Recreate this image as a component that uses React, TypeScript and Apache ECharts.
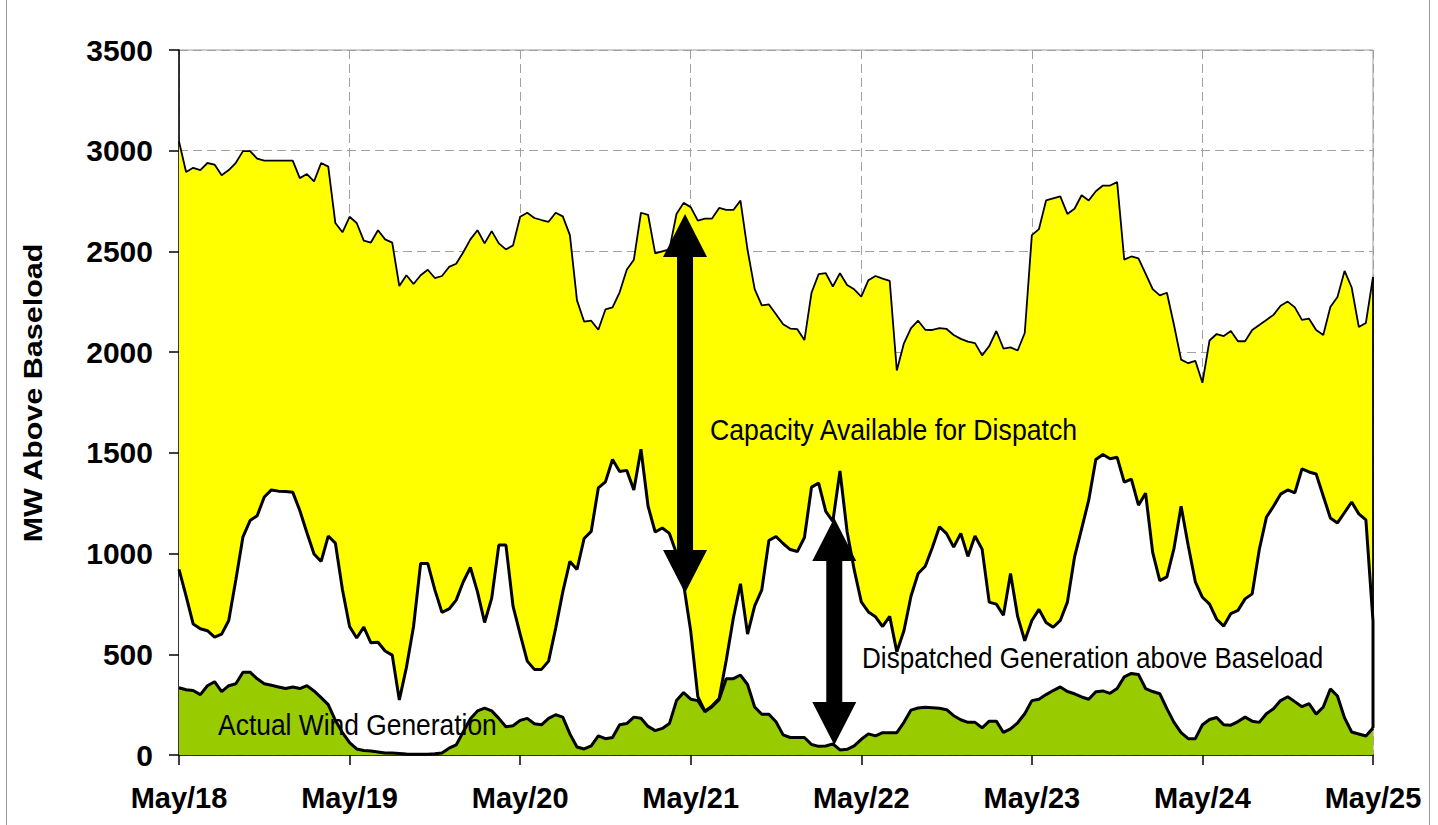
import React, { useEffect, useRef } from "react";
import * as echarts from "echarts";

// Tick labels (one per day, hourly data in between)
const dayLabels = ["May/18", "May/19", "May/20", "May/21", "May/22", "May/23", "May/24", "May/25"];
const yAxisTitle = "MW Above Baseload";

// Hourly values, May/18 00:00 .. May/25 00:00 (169 points)
const capacity = [
  3046, 2894, 2915, 2904, 2939, 2931, 2878, 2904, 2940, 2998, 2998, 2961, 2951, 2951, 2951, 2951, 2951, 2864, 2884, 2848, 2939, 2921, 2641, 2595,
  2672, 2641, 2554, 2544, 2605, 2560, 2544, 2328, 2382, 2338, 2382, 2409, 2368, 2378, 2423, 2439, 2496, 2560, 2605, 2540, 2601, 2540, 2510, 2530,
  2672, 2692, 2666, 2656, 2647, 2692, 2674, 2581, 2257, 2152, 2156, 2111, 2212, 2222, 2297, 2409, 2459, 2692, 2682, 2490, 2500, 2510, 2686, 2741,
  2720, 2653, 2663, 2663, 2716, 2706, 2706, 2752, 2507, 2313, 2232, 2237, 2188, 2138, 2117, 2114, 2060, 2295, 2387, 2392, 2326, 2392, 2333, 2312,
  2276, 2357, 2378, 2365, 2354, 1909, 2044, 2119, 2156, 2111, 2110, 2119, 2115, 2085, 2066, 2052, 2045, 1984, 2030, 2105, 2018, 2024, 2008, 2095,
  2581, 2611, 2753, 2763, 2773, 2686, 2712, 2779, 2753, 2799, 2827, 2827, 2844, 2459, 2475, 2465, 2390, 2313, 2282, 2295, 2135, 1963, 1945, 1957,
  1848, 2058, 2090, 2080, 2105, 2054, 2054, 2110, 2135, 2160, 2185, 2230, 2251, 2222, 2160, 2166, 2110, 2085, 2224, 2274, 2403, 2321, 2125, 2145,
  2373,
];
const dispatched = [
  921, 789, 650, 627, 617, 585, 600, 668, 870, 1083, 1164, 1188, 1281, 1316, 1310, 1308, 1305, 1214, 1103, 998, 961, 1087, 1052, 820,
  638, 581, 635, 557, 560, 516, 496, 273, 435, 638, 951, 951, 820, 708, 725, 769, 860, 931, 810, 658, 779, 1042, 1042, 739,
  600, 466, 425, 425, 466, 630, 810, 961, 921, 1075, 1110, 1326, 1356, 1467, 1407, 1413, 1316, 1518, 1235, 1107, 1127, 1100, 1000, 848,
  615, 290, 218, 244, 280, 470, 680, 850, 600, 740, 820, 1065, 1085, 1050, 1020, 1010, 1080, 1330, 1350, 1210, 1160, 1410, 1110, 920,
  760, 710, 686, 638, 688, 512, 617, 789, 901, 937, 1030, 1133, 1099, 1032, 1100, 986, 1087, 1022, 759, 749, 694, 901, 688, 567,
  668, 723, 658, 634, 668, 759, 982, 1123, 1265, 1467, 1492, 1471, 1478, 1355, 1370, 1240, 1300, 1006, 866, 884, 1026, 1235, 1040, 860,
  783, 749, 674, 640, 702, 718, 775, 800, 1020, 1180, 1235, 1295, 1316, 1301, 1420, 1405, 1395, 1286, 1177, 1152, 1204, 1256, 1197, 1167,
  665,
];
const wind = [
  334, 324, 320, 300, 344, 364, 315, 344, 354, 411, 411, 378, 354, 346, 338, 330, 338, 330, 344, 318, 285, 250, 172, 111,
  61, 30, 22, 20, 15, 10, 10, 8, 5, 4, 4, 4, 6, 10, 34, 50, 115, 180, 219, 233, 219, 182, 140, 145,
  172, 182, 155, 150, 182, 200, 188, 105, 40, 30, 45, 95, 81, 87, 150, 156, 188, 182, 142, 121, 132, 156, 270, 310,
  277, 270, 215, 240, 275, 379, 379, 397, 350, 238, 202, 202, 165, 100, 87, 87, 87, 52, 43, 45, 55, 25, 28, 45,
  78, 105, 95, 111, 111, 111, 162, 223, 233, 237, 235, 232, 225, 195, 175, 162, 162, 135, 168, 168, 112, 130, 160, 205,
  270, 277, 300, 320, 338, 315, 304, 288, 277, 314, 318, 306, 330, 388, 405, 400, 330, 315, 304, 230, 162, 111, 81, 81,
  150, 176, 186, 150, 148, 166, 188, 168, 162, 205, 230, 270, 289, 265, 240, 255, 203, 238, 328, 293, 184, 114, 104, 94,
  134,
];

// Annotation texts, anchored in data coordinates (hour, MW) – left edge / vertical middle
const labelTexts = ["Capacity Available for Dispatch", "Dispatched Generation above Baseload", "Actual Wind Generation"];
const labelHours = [74.7, 96.1, 5.5];
const labelMW = [1614, 482, 149];
const labelScale = [0.92, 0.9, 0.91];

// Double-headed arrows: hour position, lower tip MW, upper tip MW
const arrowHours = [71.2, 92.2];
const arrowLow = [804, 50];
const arrowHigh = [2686, 1177];

const FONT = '"Liberation Sans", Arial, Helvetica, sans-serif';

export default function App() {
  const ref = useRef<HTMLDivElement>(null);

  useEffect(() => {
    const chart = echarts.init(ref.current!, null, { renderer: "svg" });
    const pairs = (arr: number[]) => arr.map((v, i) => [i, v]);
    const last = capacity.length - 1;
    const totalHours = (dayLabels.length - 1) * 24;

    chart.setOption({
      animation: false,
      backgroundColor: "#ffffff",
      grid: {
        left: 179,
        top: 50,
        width: 1194,
        height: 705,
        show: true,
        borderColor: "#9a9a9a",
        borderWidth: 1,
        backgroundColor: "transparent",
      },
      xAxis: {
        type: "value",
        min: 0,
        max: totalHours,
        interval: 24,
        axisLine: { show: true, onZero: false, lineStyle: { color: "#000", width: 1.5 } },
        axisTick: { show: true, length: 10, lineStyle: { color: "#000", width: 1.5 } },
        axisLabel: {
          margin: 28,
          color: "#000",
          fontFamily: FONT,
          fontWeight: "bold",
          fontSize: 29,
          formatter: (v: number) => dayLabels[Math.round(v / 24)] ?? "",
        },
        splitLine: { show: true, lineStyle: { color: "#a0a0a0", width: 1, type: [9, 5] } },
      },
      yAxis: {
        type: "value",
        min: 0,
        max: 3500,
        interval: 500,
        axisLine: { show: true, lineStyle: { color: "#000", width: 1.5 } },
        axisTick: { show: true, length: 10, lineStyle: { color: "#000", width: 1.5 } },
        axisLabel: {
          margin: 26,
          color: "#000",
          fontFamily: FONT,
          fontWeight: "bold",
          fontSize: 30,
          formatter: (v: number) => String(v),
        },
        splitLine: { show: true, lineStyle: { color: "#a0a0a0", width: 1, type: [9, 5] } },
      },
      series: [
        {
          name: "Capacity",
          type: "line",
          data: pairs(capacity),
          symbol: "none",
          lineStyle: { color: "#000", width: 1.8 },
          areaStyle: { color: "#ffff00", opacity: 1 },
          z: 2,
        },
        {
          name: "Dispatched",
          type: "line",
          data: pairs(dispatched),
          symbol: "none",
          lineStyle: { color: "#000", width: 3 },
          areaStyle: { color: "#ffffff", opacity: 1 },
          z: 3,
        },
        {
          name: "Wind",
          type: "line",
          data: pairs(wind),
          symbol: "none",
          lineStyle: { color: "#000", width: 3 },
          areaStyle: { color: "#99cc00", opacity: 1 },
          z: 4,
        },
        {
          name: "CapacityEdge",
          type: "line",
          data: [[last, capacity[last]], [last, dispatched[last]]],
          symbol: "none",
          lineStyle: { color: "#000", width: 1.8 },
          z: 5,
        },
        {
          name: "DispatchedEdge",
          type: "line",
          data: [[last, dispatched[last]], [last, wind[last]]],
          symbol: "none",
          lineStyle: { color: "#000", width: 3 },
          z: 5,
        },
      ],
    });

    const px = (h: number, v: number) => chart.convertToPixel({ gridIndex: 0 }, [h, v]) as number[];

    const graphics: any[] = [];
    // outer frame sides
    graphics.push({ type: "line", shape: { x1: 6.5, y1: 0, x2: 6.5, y2: 825 }, style: { stroke: "#9a9a9a", lineWidth: 1 } });
    graphics.push({ type: "line", shape: { x1: 1429.5, y1: 0, x2: 1429.5, y2: 825 }, style: { stroke: "#9a9a9a", lineWidth: 1 } });

    // y axis title
    graphics.push({
      type: "text",
      x: 33,
      y: 393,
      rotation: Math.PI / 2,
      scaleX: 1.22,
      z: 100,
      style: {
        text: yAxisTitle,
        font: `bold 25px ${FONT}`,
        fill: "#000",
        textAlign: "center",
        textVerticalAlign: "middle",
      },
    });

    // arrows
    const headLen = 43;
    const headHalf = 22;
    const shaftHalf = 8;
    arrowHours.forEach((h, i) => {
      const top = px(h, arrowHigh[i]);
      const bot = px(h, arrowLow[i]);
      const cx = top[0];
      const yT = top[1];
      const yB = bot[1];
      graphics.push({
        type: "polygon",
        z: 100,
        shape: {
          points: [
            [cx, yT],
            [cx + headHalf, yT + headLen],
            [cx + shaftHalf, yT + headLen],
            [cx + shaftHalf, yB - headLen],
            [cx + headHalf, yB - headLen],
            [cx, yB],
            [cx - headHalf, yB - headLen],
            [cx - shaftHalf, yB - headLen],
            [cx - shaftHalf, yT + headLen],
            [cx - headHalf, yT + headLen],
          ],
        },
        style: { fill: "#000" },
      });
    });

    // annotation texts
    labelTexts.forEach((t, i) => {
      const p = px(labelHours[i], labelMW[i]);
      graphics.push({
        type: "text",
        x: p[0],
        y: p[1],
        scaleX: labelScale[i],
        z: 100,
        style: {
          text: t,
          font: `29px ${FONT}`,
          fill: "#000",
          textAlign: "left",
          textVerticalAlign: "middle",
        },
      });
    });

    chart.setOption({ graphic: graphics });

    return () => chart.dispose();
  }, []);

  return (
    <div
      ref={ref}
      style={{ position: "fixed", left: 0, top: 0, width: 1438, height: 825, background: "#fff" }}
    />
  );
}
